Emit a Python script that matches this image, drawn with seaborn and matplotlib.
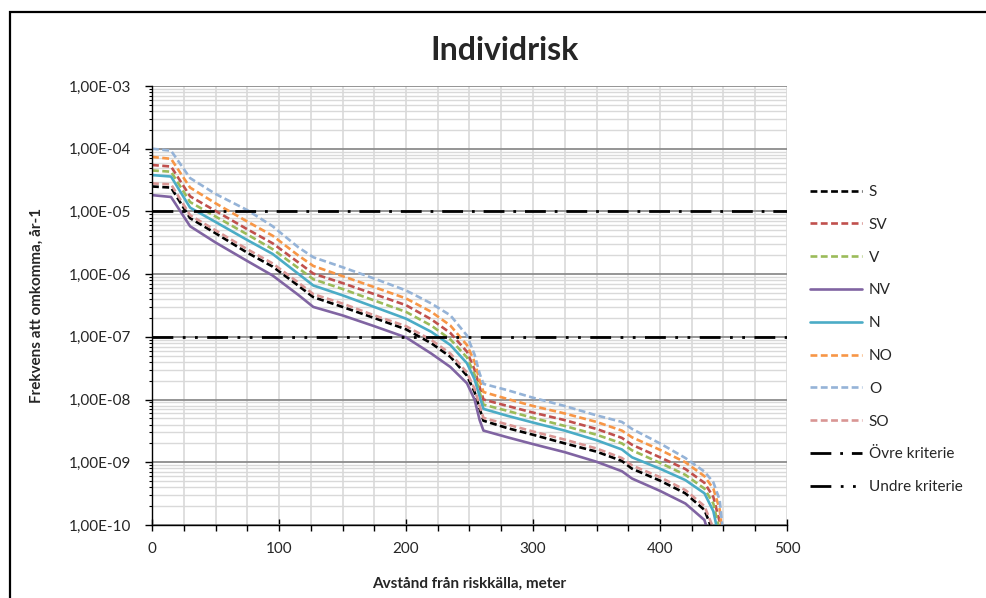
import matplotlib.pyplot as plt
import matplotlib.ticker as ticker
from matplotlib.patches import Rectangle
import pandas as pd
import seaborn as sns

sns.set_style("white")
plt.rcParams["font.family"] = ["Lato", "DejaVu Sans"]

# Avstånd från riskkälla (m)
dist = [0, 15, 30, 50, 75, 95, 115, 127, 150, 175, 200, 220, 235, 248, 254,
        258, 261, 280, 300, 325, 350, 370, 378, 400, 420, 435, 442, 447, 452]

# Frekvens att omkomma per vindriktning (per år)
risk_S = [2.5e-5, 2.4e-5, 7.8e-6, 4.5e-6, 2.2e-6, 1.32e-6, 6.6e-7, 4.3e-7, 3.0e-7, 2.0e-7,
          1.32e-7, 7.9e-8, 4.8e-8, 2.4e-8, 1.32e-8, 7.1e-9, 4.6e-9, 3.5e-9, 2.75e-9, 2.0e-9,
          1.48e-9, 1.05e-9, 7.9e-10, 5.1e-10, 3.2e-10, 1.74e-10, 7.6e-11, 1.3e-11, 1e-12]
risk_SV = [5.5e-5, 5.2e-5, 1.74e-5, 1.02e-5, 5.2e-6, 3.1e-6, 1.55e-6, 1.02e-6, 7.2e-7, 4.8e-7,
           3.2e-7, 1.9e-7, 1.15e-7, 5.8e-8, 3.0e-8, 1.58e-8, 1.0e-8, 7.9e-9, 6.2e-9, 4.7e-9,
           3.4e-9, 2.45e-9, 1.9e-9, 1.2e-9, 7.8e-10, 4.7e-10, 2.8e-10, 1.12e-10, 1e-11]
risk_V = [4.5e-5, 4.3e-5, 1.41e-5, 8.3e-6, 4.3e-6, 2.5e-6, 1.26e-6, 8.3e-7, 5.8e-7, 3.8e-7,
          2.5e-7, 1.51e-7, 9.1e-8, 4.7e-8, 2.5e-8, 1.32e-8, 8.3e-9, 6.6e-9, 5.1e-9, 3.8e-9,
          2.75e-9, 2.0e-9, 1.55e-9, 9.8e-10, 6.3e-10, 3.8e-10, 2.2e-10, 7.9e-11, 6e-12]
risk_NV = [1.82e-5, 1.7e-5, 5.8e-6, 3.2e-6, 1.62e-6, 9.5e-7, 4.7e-7, 3.0e-7, 2.2e-7, 1.48e-7,
           9.8e-8, 5.4e-8, 3.3e-8, 1.82e-8, 1.0e-8, 4.7e-9, 3.2e-9, 2.5e-9, 1.95e-9, 1.45e-9,
           1.02e-9, 7.2e-10, 5.5e-10, 3.5e-10, 2.2e-10, 1.2e-10, 4e-11, 3e-12, 3e-13]
risk_N = [3.8e-5, 3.6e-5, 1.15e-5, 6.8e-6, 3.5e-6, 2.1e-6, 1.02e-6, 6.6e-7, 4.6e-7, 3.0e-7,
          1.95e-7, 1.2e-7, 7.4e-8, 3.8e-8, 2.1e-8, 1.12e-8, 7.1e-9, 5.5e-9, 4.3e-9, 3.2e-9,
          2.25e-9, 1.6e-9, 1.2e-9, 7.9e-10, 5.2e-10, 3.2e-10, 1.66e-10, 5.6e-11, 3e-12]
risk_NO = [7.4e-5, 6.9e-5, 2.4e-5, 1.35e-5, 6.9e-6, 4.1e-6, 2.0e-6, 1.35e-6, 9.3e-7, 6.2e-7,
           4.1e-7, 2.5e-7, 1.51e-7, 7.4e-8, 4.0e-8, 2.0e-8, 1.32e-8, 1.02e-8, 7.9e-9, 6.0e-9,
           4.4e-9, 3.2e-9, 2.5e-9, 1.58e-9, 1.0e-9, 6.0e-10, 3.8e-10, 1.78e-10, 1.6e-11]
risk_O = [1.0e-4, 9.3e-5, 3.4e-5, 1.9e-5, 1.05e-5, 5.8e-6, 2.7e-6, 1.86e-6, 1.29e-6, 8.5e-7,
          5.5e-7, 3.4e-7, 2.2e-7, 1.05e-7, 5.2e-8, 2.6e-8, 1.78e-8, 1.41e-8, 1.07e-8, 7.9e-9,
          5.6e-9, 4.4e-9, 3.4e-9, 2.0e-9, 1.17e-9, 7.1e-10, 4.8e-10, 2.5e-10, 2.5e-11]
risk_SO = [2.8e-5, 2.7e-5, 8.7e-6, 5.0e-6, 2.5e-6, 1.48e-6, 7.4e-7, 4.8e-7, 3.4e-7, 2.2e-7,
           1.48e-7, 8.9e-8, 5.4e-8, 2.7e-8, 1.48e-8, 7.9e-9, 5.1e-9, 4.0e-9, 3.1e-9, 2.3e-9,
           1.66e-9, 1.17e-9, 8.9e-10, 5.8e-10, 3.6e-10, 2.0e-10, 8.9e-11, 1.6e-11, 1e-12]

directions = ["S", "SV", "V", "NV", "N", "NO", "O", "SO"]
risk = [risk_S, risk_SV, risk_V, risk_NV, risk_N, risk_NO, risk_O, risk_SO]

ovre_kriterie = 1e-5
undre_kriterie = 1e-7

colors = {"S": "#000000", "SV": "#C0504D", "V": "#9BBB59", "NV": "#8064A2",
          "N": "#4BACC6", "NO": "#F79646", "O": "#95B3D7", "SO": "#D99694"}
dash = (2.6, 1.3)
dash_map = {d: ("" if d in ("NV", "N") else dash) for d in directions}

df = pd.concat(
    [pd.DataFrame({"Avstånd": dist, "Frekvens": r, "Riktning": d})
     for d, r in zip(directions, risk)],
    ignore_index=True,
)

fig = plt.figure(figsize=(9.87, 5.98), dpi=100)
ax = fig.add_axes([152 / 987, 1 - 525 / 598, 635 / 987, 439 / 598])

sns.lineplot(data=df, x="Avstånd", y="Frekvens", hue="Riktning", style="Riktning",
             hue_order=directions, style_order=directions, palette=colors,
             dashes=dash_map, linewidth=1.9, errorbar=None, ax=ax)

h_ovre = ax.axhline(ovre_kriterie, color="black", lw=2.0,
                    dashes=(7.5, 3.2, 1, 3.2), label="Övre kriterie")
h_undre = ax.axhline(undre_kriterie, color="black", lw=2.0,
                     dashes=(7.5, 3.4, 1, 3.4, 1, 3.4), label="Undre kriterie")

ax.set_yscale("log")
ax.set_xlim(0, 500)
ax.set_ylim(1e-10, 1e-3)
ax.xaxis.set_major_locator(ticker.MultipleLocator(100))
ax.xaxis.set_minor_locator(ticker.MultipleLocator(25))
ax.yaxis.set_major_locator(ticker.LogLocator(base=10, numticks=20))
ax.yaxis.set_minor_locator(ticker.LogLocator(base=10, subs=range(2, 10), numticks=20))
ax.yaxis.set_minor_formatter(ticker.NullFormatter())
ax.yaxis.set_major_formatter(ticker.FuncFormatter(
    lambda v, p: f"{v:.2E}".replace(".", ",")))

ax.grid(which="major", axis="y", color="#8c8c8c", lw=1.3)
ax.grid(which="minor", axis="y", color="#d9d9d9", lw=1.0)
ax.grid(which="both", axis="x", color="#d9d9d9", lw=1.2)
ax.set_axisbelow(True)

for s in ["top", "right"]:
    ax.spines[s].set_visible(False)
for s in ["left", "bottom"]:
    ax.spines[s].set_color("black")
    ax.spines[s].set_linewidth(1.0)

ax.tick_params(axis="y", which="major", direction="out", length=5, width=1,
               color="black", labelsize=11, pad=10, left=True)
ax.tick_params(axis="y", which="minor", direction="out", length=2.5, width=0.8,
               color="black", left=True)
ax.tick_params(axis="x", which="major", direction="inout", length=9, width=1,
               color="black", labelsize=11, pad=8, bottom=True)
ax.tick_params(axis="x", which="minor", direction="out", length=4, width=1,
               color="black", bottom=True)

ax.set_xlabel("Avstånd från riskkälla, meter", fontsize=11, fontweight="bold")
ax.set_ylabel("Frekvens att omkomma, år-1", fontsize=11, fontweight="bold")
ax.xaxis.set_label_coords(0.5, -0.117)
ax.yaxis.set_label_coords(-0.17, 0.5)

fig.text(505 / 987, 1 - 51 / 598, "Individrisk", ha="center", va="center",
         fontsize=23, fontweight="bold")

leg = ax.get_legend()
handles = list(leg.legend_handles)
labels = [t.get_text() for t in leg.get_texts()]
leg.remove()
for h in handles:
    h.set_linewidth(1.9)
handles += [h_ovre, h_undre]
labels += ["Övre kriterie", "Undre kriterie"]
ax.legend(handles, labels, loc="upper left", bbox_to_anchor=(810 / 987, 1 - 185 / 598),
          bbox_transform=fig.transFigure, frameon=False, fontsize=11,
          handlelength=3.4, handletextpad=0.45, labelspacing=1.23,
          borderpad=0, borderaxespad=0)

fig.add_artist(Rectangle((10 / 987, -0.1), 1.2, 0.1 + (598 - 12) / 598,
                         transform=fig.transFigure, fill=False, lw=1.6,
                         edgecolor="black"))

fig.savefig("out.png", dpi=100)
